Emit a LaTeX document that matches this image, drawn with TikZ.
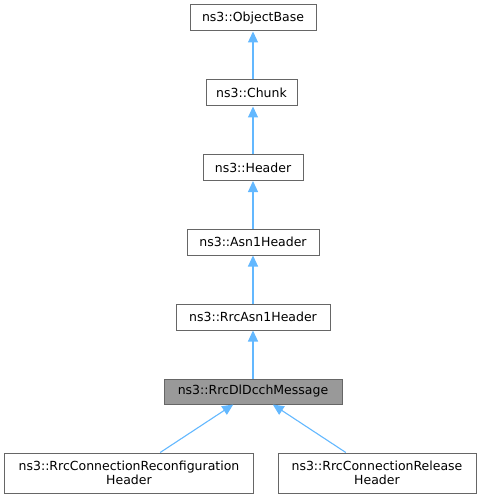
\documentclass[tikz,border=0pt]{standalone}
\usepackage{fontspec}
\setmainfont{DejaVu Sans}
\usetikzlibrary{arrows.meta}
\definecolor{edgeblue}{HTML}{63B8FF}
\definecolor{boxborder}{HTML}{666666}
\definecolor{hlfill}{HTML}{999999}
\tikzset{
  cls/.style={draw=boxborder, fill=white, line width=1bp, inner sep=0pt,
    minimum height=26bp, font=\fontsize{12.5bp}{14.5bp}\selectfont, align=center},
  hl/.style={cls, fill=hlfill},
  inh/.style={draw=edgeblue, line width=1.1bp,
    -{Triangle[length=11bp, width=10bp, fill=edgeblue]}}
}
\begin{document}
\begin{tikzpicture}[x=1bp, y=-1bp]
\useasboundingbox (0,0) rectangle (481,499);
\node[cls, minimum width=126bp] (ob) at (253,18) {ns3::ObjectBase};
\node[cls, minimum width=91bp] (chunk) at (251.5,93) {ns3::Chunk};
\node[cls, minimum width=100bp] (header) at (253,167.5) {ns3::Header};
\node[cls, minimum width=132bp] (asn) at (253,242) {ns3::Asn1Header};
\node[cls, minimum width=154bp] (rasn) at (253,317) {ns3::RrcAsn1Header};
\node[hl, minimum width=178bp, minimum height=25bp] (dl) at (253,391.5) {ns3::RrcDlDcchMessage};
\node[cls, minimum width=248bp, minimum height=40bp] (cfg) at (129,473) {ns3::RrcConnectionReconfiguration\\Header};
\node[cls, minimum width=198bp, minimum height=40bp] (rel) at (377,473) {ns3::RrcConnectionRelease\\Header};
\draw[inh] (chunk.north -| ob.south) -- (ob.south);
\draw[inh] (header.north -| ob.south) -- (chunk.south -| ob.south);
\draw[inh] (asn.north) -- (header.south);
\draw[inh] (rasn.north) -- (asn.south);
\draw[inh] (dl.north) -- (rasn.south);
\draw[inh] (cfg) -- (dl);
\draw[inh] (rel) -- (dl);
\end{tikzpicture}
\end{document}
